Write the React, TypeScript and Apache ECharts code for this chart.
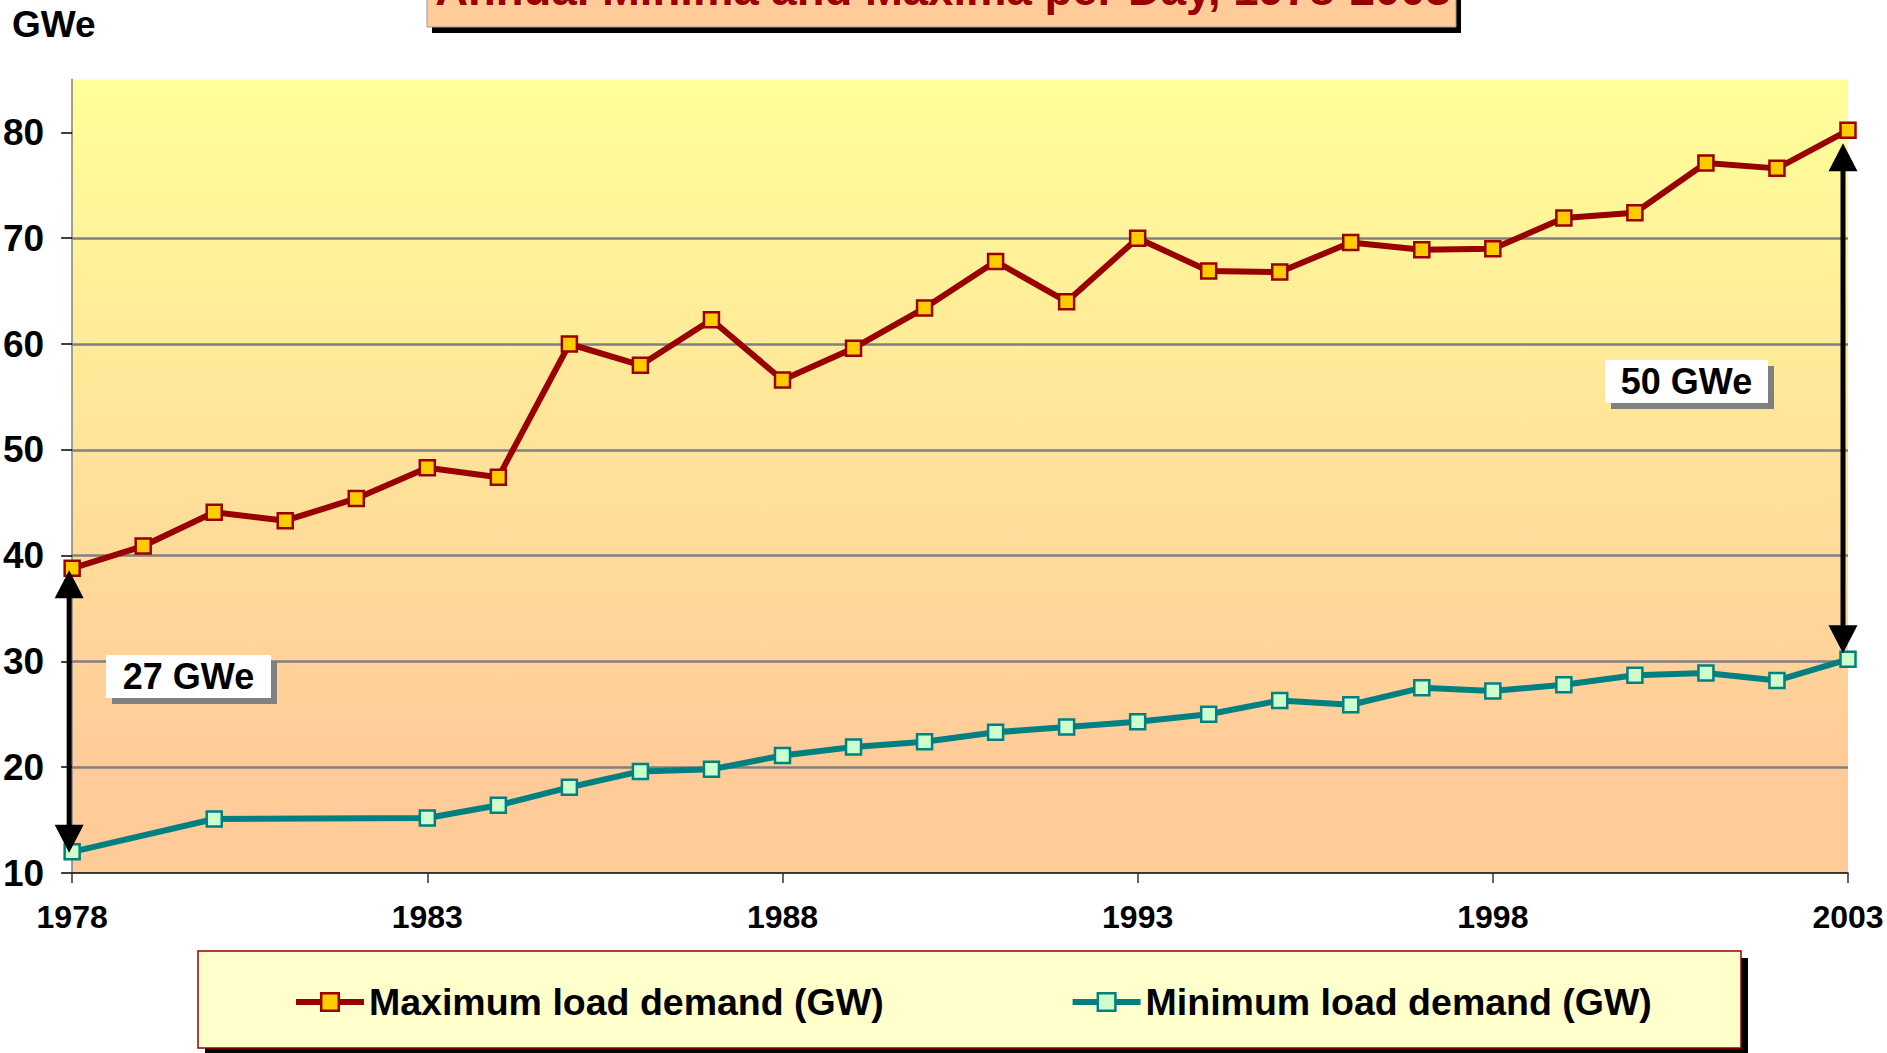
import React, { useEffect, useRef } from 'react';
import * as echarts from 'echarts';

const years = [
  '1978', '1979', '1980', '1981', '1982', '1983', '1984', '1985', '1986', '1987',
  '1988', '1989', '1990', '1991', '1992', '1993', '1994', '1995', '1996', '1997',
  '1998', '1999', '2000', '2001', '2002', '2003',
];
const maxLoad = [
  38.8, 40.9, 44.1, 43.3, 45.4, 48.3, 47.4, 60.0, 58.0, 62.3,
  56.6, 59.6, 63.4, 67.8, 64.0, 70.0, 66.9, 66.8, 69.6, 68.9,
  69.0, 71.9, 72.4, 77.1, 76.6, 80.2,
];
const minLoad: (number | null)[] = [
  12.0, null, 15.1, null, null, 15.2, 16.4, 18.1, 19.6, 19.8,
  21.1, 21.9, 22.4, 23.3, 23.8, 24.3, 25.0, 26.3, 25.9, 27.5,
  27.2, 27.8, 28.7, 28.9, 28.2, 30.2,
];
const yTicks = [10, 20, 30, 40, 50, 60, 70, 80];
const seriesNames = ['Maximum load demand (GW)', 'Minimum load demand (GW)'];
const gapLabels = ['27 GWe', '50 GWe'];
const titleText = 'Annual Minima and Maxima per Day, 1978-2003';
const unitText = 'GWe';

const FONT = '"Liberation Sans", Arial, Helvetica, sans-serif';
const MAX_LINE = '#990000';
const MAX_FILL = '#FFCC00';
const MIN_LINE = '#008080';
const MIN_FILL = '#CCFFCC';

export default function App() {
  const ref = useRef<HTMLDivElement>(null);

  useEffect(() => {
    if (!ref.current) return;
    const chart = echarts.init(ref.current, null, { renderer: 'svg' });

    chart.setOption({
      animation: false,
      backgroundColor: '#ffffff',
      grid: {
        left: 71,
        right: 39,
        top: 79.5,
        bottom: 180,
        show: true,
        borderWidth: 0,
        backgroundColor: {
          type: 'linear',
          x: 0, y: 0, x2: 0, y2: 1,
          colorStops: [
            { offset: 0, color: '#FFFF99' },
            { offset: 0.85, color: '#FFCC99' },
            { offset: 1, color: '#FFCC99' },
          ],
        },
      },
      legend: {
        data: [
          {
            name: seriesNames[0],
            lineStyle: { color: MAX_LINE, width: 6 },
            itemStyle: { color: MAX_FILL, borderColor: MAX_LINE, borderWidth: 2.5 },
          },
          {
            name: seriesNames[1],
            lineStyle: { color: MIN_LINE, width: 6 },
            itemStyle: { color: MIN_FILL, borderColor: MIN_LINE, borderWidth: 2.5 },
          },
        ],
        left: 288,
        top: 978,
        itemWidth: 68,
        itemHeight: 22,
        itemGap: 186,
        selectedMode: false,
        z: 10,
        textStyle: {
          fontSize: 37.5,
          fontWeight: 'bold',
          color: '#000',
          fontFamily: FONT,
        },
      },
      xAxis: {
        type: 'category',
        data: years,
        boundaryGap: false,
        axisLine: { onZero: false, lineStyle: { color: '#000', width: 1.5 } },
        axisTick: { show: true, interval: 4, length: 10, lineStyle: { color: '#333', width: 1.5 } },
        axisLabel: {
          interval: 4,
          fontSize: 32,
          fontWeight: 'bold',
          color: '#000',
          fontFamily: FONT,
          margin: 28,
        },
        splitLine: { show: false },
      },
      yAxis: {
        type: 'value',
        min: 10,
        max: 85,
        interval: 10,
        axisLine: { show: true, onZero: false, lineStyle: { color: '#808080', width: 1.5 } },
        axisTick: { show: true, length: 11, customValues: yTicks, lineStyle: { color: '#000', width: 1.5 } },
        axisLabel: {
          customValues: yTicks,
          fontSize: 37,
          fontWeight: 'bold',
          color: '#000',
          fontFamily: FONT,
          margin: 28,
        },
        splitLine: {
          show: true,
          showMinLine: false,
          showMaxLine: false,
          lineStyle: { color: '#808080', width: 2.5 },
        },
      },
      series: [
        {
          name: seriesNames[0],
          type: 'line',
          data: maxLoad,
          symbol: 'rect',
          symbolSize: 15,
          lineStyle: { color: MAX_LINE, width: 6 },
          itemStyle: { color: MAX_FILL, borderColor: MAX_LINE, borderWidth: 2.5 },
          emphasis: { disabled: true },
          z: 3,
        },
        {
          name: seriesNames[1],
          type: 'line',
          data: minLoad,
          connectNulls: true,
          symbol: 'rect',
          symbolSize: 15,
          lineStyle: { color: MIN_LINE, width: 6 },
          itemStyle: { color: MIN_FILL, borderColor: MIN_LINE, borderWidth: 2.5 },
          emphasis: { disabled: true },
          z: 3,
        },
      ],
    });

    const px = (i: number, v: number) =>
      chart.convertToPixel({ gridIndex: 0 }, [i, v]) as number[];

    const arrow = (id: string, x: number, yTop: number, yBot: number) => {
      const hw = 14.5;
      const hh = 28;
      return [
        {
          type: 'line', id: id + 's', z: 100,
          shape: { x1: x, y1: yTop + hh - 2, x2: x, y2: yBot - hh + 2 },
          style: { stroke: '#000', lineWidth: 5 },
        },
        {
          type: 'polygon', id: id + 't', z: 100,
          shape: { points: [[x, yTop], [x - hw, yTop + hh], [x + hw, yTop + hh]] },
          style: { fill: '#000' },
        },
        {
          type: 'polygon', id: id + 'b', z: 100,
          shape: { points: [[x, yBot], [x - hw, yBot - hh], [x + hw, yBot - hh]] },
          style: { fill: '#000' },
        },
      ];
    };

    const last = years.length - 1;
    const a0 = px(0, maxLoad[0]);
    const b0 = px(0, minLoad[0] as number);
    const a1 = px(last, maxLoad[last]);
    const b1 = px(last, minLoad[last] as number);

    const textStyle = (text: string, size: number, fill: string) => ({
      text,
      font: `bold ${size}px ${FONT}`,
      fill,
      align: 'center',
      verticalAlign: 'middle',
      textAlign: 'center',
      textVerticalAlign: 'middle',
    });

    const labelBox = (id: string, x: number, y: number, w: number, h: number, text: string) => [
      { type: 'rect', id: id + 'sh', z: 100, shape: { x: x + 6, y: y + 6, width: w, height: h }, style: { fill: '#808080' } },
      { type: 'rect', id: id + 'bx', z: 101, shape: { x, y, width: w, height: h }, style: { fill: '#ffffff' } },
      { type: 'text', id: id + 'tx', z: 102, x: x + w / 2, y: y + h / 2, style: textStyle(text, 36, '#000') },
    ];

    chart.setOption({
      graphic: {
        elements: [
          // title box
          { type: 'rect', id: 'tsh', z: 50, shape: { x: 432, y: -20, width: 1029, height: 53 }, style: { fill: '#000' } },
          { type: 'rect', id: 'tbx', z: 51, shape: { x: 427, y: -20, width: 1029, height: 47 }, style: { fill: '#FFCC99', stroke: '#999999', lineWidth: 1 } },
          { type: 'text', id: 'ttx', z: 52, x: 943, y: -10.5, style: textStyle(titleText, 45.5, '#990000') },
          // unit
          {
            type: 'text', id: 'unit', z: 52, x: 12, y: 24,
            style: { text: unitText, font: `bold 37px ${FONT}`, fill: '#000', align: 'left', verticalAlign: 'middle', textAlign: 'left', textVerticalAlign: 'middle' },
          },
          // legend box
          { type: 'rect', id: 'lsh', z: 1, shape: { x: 205, y: 958, width: 1543, height: 97 }, style: { fill: '#000' } },
          { type: 'rect', id: 'lbx', z: 2, shape: { x: 198, y: 951, width: 1543, height: 97 }, style: { fill: '#FFFFCC', stroke: '#990000', lineWidth: 1.5 } },
          // arrows
          ...arrow('al', a0[0] - 3, a0[1] + 2, b0[1] + 1),
          ...arrow('ar', a1[0] - 5, a1[1] + 13, b1[1] - 6),
          // gap labels
          ...labelBox('g1', 106, 655, 165, 43, gapLabels[0]),
          ...labelBox('g2', 1605, 360, 163, 43, gapLabels[1]),
        ],
      },
    });

    return () => {
      chart.dispose();
    };
  }, []);

  return (
    <div
      ref={ref}
      style={{ position: 'fixed', left: 0, top: 0, width: 1887, height: 1053, background: '#fff' }}
    />
  );
}
